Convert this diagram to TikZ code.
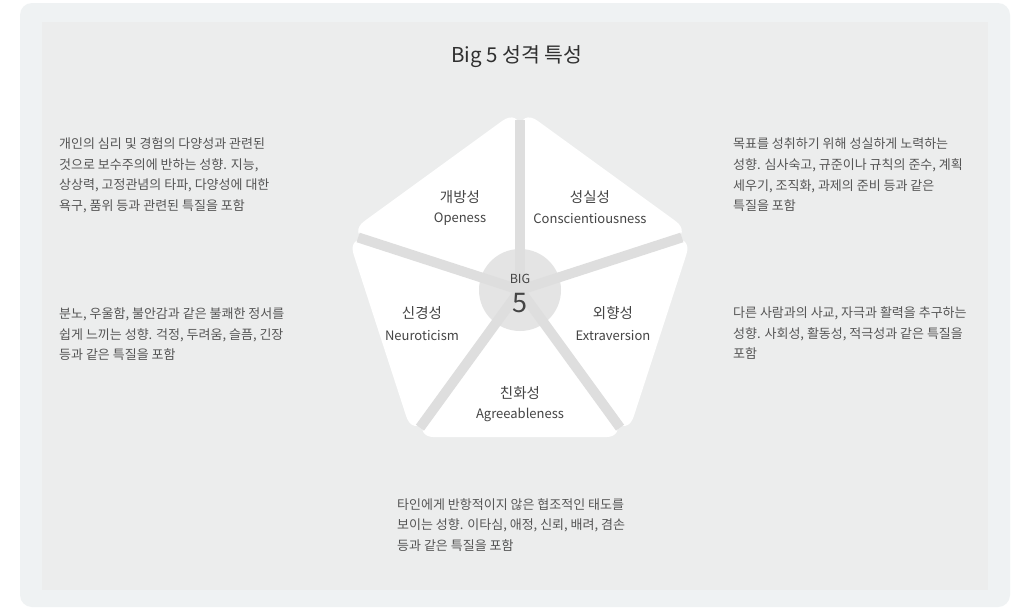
\documentclass[tikz,border=0pt]{standalone}
\usepackage{fontspec}
\setmainfont{Noto Sans CJK KR}
\usetikzlibrary{calc}
\definecolor{outerbg}{RGB}{239,242,243}
\definecolor{innerbg}{RGB}{236,237,237}
\definecolor{bandc}{RGB}{222,222,222}
\definecolor{circc}{RGB}{228,228,228}
\definecolor{bodyc}{RGB}{85,85,85}
\definecolor{labc}{RGB}{68,68,68}
\definecolor{titc}{RGB}{48,48,48}
\tikzset{
  desc/.style={anchor=north west, inner sep=0pt, align=left, text=bodyc, font=\fontsize{13}{20.6}\selectfont},
  krlab/.style={inner sep=0pt, text=labc, font=\fontsize{14.5}{16}\selectfont},
  enlab/.style={inner sep=0pt, text=labc, font=\fontsize{13}{15}\selectfont},
  piece/.style={fill=white, rounded corners=22pt},
  band/.style={draw=bandc, line width=10pt},
}
\begin{document}
\begin{tikzpicture}[x=1pt,y=-1pt]
\useasboundingbox (0,0) rectangle (1013,608);
\fill[white] (0,0) rectangle (1013,608);
\fill[outerbg, rounded corners=12pt] (20,3) rectangle (1010,607);
\fill[innerbg] (42,22) rectangle (988,590);
% pentagon geometry
\coordinate (C) at (520,290);
\coordinate (V0) at (520,108);
\coordinate (V1) at (346.9,233.8);
\coordinate (V2) at (413.0,437.2);
\coordinate (V3) at (627.0,437.2);
\coordinate (V4) at (693.1,233.8);
\fill[piece] (C) -- (V0) -- (V1) -- cycle;
\fill[piece] (C) -- (V1) -- (V2) -- cycle;
\fill[piece] (C) -- (V2) -- (V3) -- cycle;
\fill[piece] (C) -- (V3) -- (V4) -- cycle;
\fill[piece] (C) -- (V4) -- (V0) -- cycle;
\fill[circc] (C) circle (41);
\foreach \v in {V0,V1,V2,V3,V4}{
  \draw[band] (C) -- ($(C)!0.935!(\v)$);
}
% title
\node[inner sep=0pt, text=titc, font=\fontsize{20.5}{24}\selectfont] (title) at (517,57) {Big 5 성격 특성};
% center
\node[inner sep=0pt, text=labc, font=\fontsize{12.5}{14}\selectfont] (big) at (520,279) {BIG};
\node[inner sep=0pt, text=labc, font=\fontsize{27}{29}\selectfont] (five) at (520,303) {5};
% labels
\node[krlab] (openK) at (460,197) {개방성};
\node[enlab] (openE) at (460,219) {Openess};
\node[krlab] (consK) at (590,197) {성실성};
\node[enlab] (consE) at (590,219) {Conscientiousness};
\node[krlab] (neurK) at (422,313) {신경성};
\node[enlab] (neurE) at (422,336) {Neuroticism};
\node[krlab] (extrK) at (613,313) {외향성};
\node[enlab] (extrE) at (613,336) {Extraversion};
\node[krlab] (agreK) at (520,393) {친화성};
\node[enlab] (agreE) at (520,415) {Agreeableness};
% descriptions
\node[desc] (dOpen) at (59,137.5) {개인의 심리 및 경험의 다양성과 관련된\\것으로 보수주의에 반하는 성향. 지능,\\상상력, 고정관념의 타파, 다양성에 대한\\욕구, 품위 등과 관련된 특질을 포함};
\node[desc] (dCons) at (733,138) {목표를 성취하기 위해 성실하게 노력하는\\성향. 심사숙고, 규준이나 규칙의 준수, 계획\\세우기, 조직화, 과제의 준비 등과 같은\\특질을 포함};
\node[desc] (dNeur) at (59,307.5) {분노, 우울함, 불안감과 같은 불쾌한 정서를\\쉽게 느끼는 성향. 걱정, 두려움, 슬픔, 긴장\\등과 같은 특질을 포함};
\node[desc] (dExtr) at (733,306.5) {다른 사람과의 사교, 자극과 활력을 추구하는\\성향. 사회성, 활동성, 적극성과 같은 특질을\\포함};
\node[desc] (dAgre) at (397,498) {타인에게 반항적이지 않은 협조적인 태도를\\보이는 성향. 이타심, 애정, 신뢰, 배려, 겸손\\등과 같은 특질을 포함};
\end{tikzpicture}
\end{document}
